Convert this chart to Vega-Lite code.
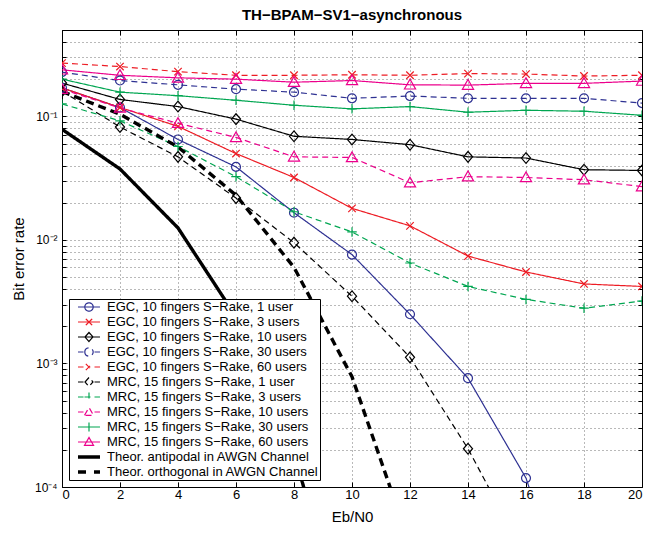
{
  "$schema": "https://vega.github.io/schema/vega-lite/v6.json",
  "width": 580,
  "height": 457,
  "autosize": "none",
  "padding": {"left": 62, "top": 30, "right": 23, "bottom": 46},
  "background": "white",
  "config": {
    "font": "Liberation Sans",
    "view": {"stroke": "black", "strokeWidth": 1},
    "axis": {"labelColor": "black", "titleColor": "black", "labelFontSize": 13, "titleFontSize": 15, "titleFontWeight": "normal", "tickColor": "black", "domain": false},
    "legend": {"orient": "bottom-left", "offset": 7, "padding": 1, "strokeColor": "black", "fillColor": "white", "labelFontSize": 13, "labelColor": "black", "labelLimit": 0, "symbolStrokeWidth": 1.2, "symbolOpacity": 1, "rowPadding": 1, "labelOffset": 23, "symbolSize": 144, "cornerRadius": 0}
  },
  "title": {"text": "TH−BPAM−SV1−asynchronous", "fontSize": 15, "fontWeight": "bold", "font": "Liberation Sans", "color": "black", "offset": 1},
  "data": {"values": [
    {"s": "EGC, 10 fingers S−Rake, 1 user", "x": 0, "y": 0.17},
    {"s": "EGC, 10 fingers S−Rake, 1 user", "x": 2, "y": 0.118},
    {"s": "EGC, 10 fingers S−Rake, 1 user", "x": 4, "y": 0.065},
    {"s": "EGC, 10 fingers S−Rake, 1 user", "x": 6, "y": 0.039},
    {"s": "EGC, 10 fingers S−Rake, 1 user", "x": 8, "y": 0.0166},
    {"s": "EGC, 10 fingers S−Rake, 1 user", "x": 10, "y": 0.0076},
    {"s": "EGC, 10 fingers S−Rake, 1 user", "x": 12, "y": 0.0025},
    {"s": "EGC, 10 fingers S−Rake, 1 user", "x": 14, "y": 0.00076},
    {"s": "EGC, 10 fingers S−Rake, 1 user", "x": 16, "y": 0.000118},
    {"s": "EGC, 10 fingers S−Rake, 1 user", "x": 18, "y": 0.0000047},

    {"s": "EGC, 10 fingers S−Rake, 3 users", "x": 0, "y": 0.17},
    {"s": "EGC, 10 fingers S−Rake, 3 users", "x": 2, "y": 0.118},
    {"s": "EGC, 10 fingers S−Rake, 3 users", "x": 4, "y": 0.083},
    {"s": "EGC, 10 fingers S−Rake, 3 users", "x": 6, "y": 0.05},
    {"s": "EGC, 10 fingers S−Rake, 3 users", "x": 8, "y": 0.032},
    {"s": "EGC, 10 fingers S−Rake, 3 users", "x": 10, "y": 0.018},
    {"s": "EGC, 10 fingers S−Rake, 3 users", "x": 12, "y": 0.013},
    {"s": "EGC, 10 fingers S−Rake, 3 users", "x": 14, "y": 0.0074},
    {"s": "EGC, 10 fingers S−Rake, 3 users", "x": 16, "y": 0.0055},
    {"s": "EGC, 10 fingers S−Rake, 3 users", "x": 18, "y": 0.0044},
    {"s": "EGC, 10 fingers S−Rake, 3 users", "x": 20, "y": 0.0042},

    {"s": "EGC, 10 fingers S−Rake, 10 users", "x": 0, "y": 0.186},
    {"s": "EGC, 10 fingers S−Rake, 10 users", "x": 2, "y": 0.137},
    {"s": "EGC, 10 fingers S−Rake, 10 users", "x": 4, "y": 0.12},
    {"s": "EGC, 10 fingers S−Rake, 10 users", "x": 6, "y": 0.095},
    {"s": "EGC, 10 fingers S−Rake, 10 users", "x": 8, "y": 0.069},
    {"s": "EGC, 10 fingers S−Rake, 10 users", "x": 10, "y": 0.065},
    {"s": "EGC, 10 fingers S−Rake, 10 users", "x": 12, "y": 0.059},
    {"s": "EGC, 10 fingers S−Rake, 10 users", "x": 14, "y": 0.047},
    {"s": "EGC, 10 fingers S−Rake, 10 users", "x": 16, "y": 0.046},
    {"s": "EGC, 10 fingers S−Rake, 10 users", "x": 18, "y": 0.037},
    {"s": "EGC, 10 fingers S−Rake, 10 users", "x": 20, "y": 0.0365},

    {"s": "EGC, 10 fingers S−Rake, 30 users", "x": 0, "y": 0.228},
    {"s": "EGC, 10 fingers S−Rake, 30 users", "x": 2, "y": 0.195},
    {"s": "EGC, 10 fingers S−Rake, 30 users", "x": 4, "y": 0.18},
    {"s": "EGC, 10 fingers S−Rake, 30 users", "x": 6, "y": 0.166},
    {"s": "EGC, 10 fingers S−Rake, 30 users", "x": 8, "y": 0.157},
    {"s": "EGC, 10 fingers S−Rake, 30 users", "x": 10, "y": 0.14},
    {"s": "EGC, 10 fingers S−Rake, 30 users", "x": 12, "y": 0.146},
    {"s": "EGC, 10 fingers S−Rake, 30 users", "x": 14, "y": 0.14},
    {"s": "EGC, 10 fingers S−Rake, 30 users", "x": 16, "y": 0.14},
    {"s": "EGC, 10 fingers S−Rake, 30 users", "x": 18, "y": 0.14},
    {"s": "EGC, 10 fingers S−Rake, 30 users", "x": 20, "y": 0.128},

    {"s": "EGC, 10 fingers S−Rake, 60 users", "x": 0, "y": 0.27},
    {"s": "EGC, 10 fingers S−Rake, 60 users", "x": 2, "y": 0.253},
    {"s": "EGC, 10 fingers S−Rake, 60 users", "x": 4, "y": 0.23},
    {"s": "EGC, 10 fingers S−Rake, 60 users", "x": 6, "y": 0.215},
    {"s": "EGC, 10 fingers S−Rake, 60 users", "x": 8, "y": 0.215},
    {"s": "EGC, 10 fingers S−Rake, 60 users", "x": 10, "y": 0.217},
    {"s": "EGC, 10 fingers S−Rake, 60 users", "x": 12, "y": 0.215},
    {"s": "EGC, 10 fingers S−Rake, 60 users", "x": 14, "y": 0.222},
    {"s": "EGC, 10 fingers S−Rake, 60 users", "x": 16, "y": 0.22},
    {"s": "EGC, 10 fingers S−Rake, 60 users", "x": 18, "y": 0.212},
    {"s": "EGC, 10 fingers S−Rake, 60 users", "x": 20, "y": 0.215},

    {"s": "MRC, 15 fingers S−Rake, 1 user", "x": 0, "y": 0.16},
    {"s": "MRC, 15 fingers S−Rake, 1 user", "x": 2, "y": 0.082},
    {"s": "MRC, 15 fingers S−Rake, 1 user", "x": 4, "y": 0.047},
    {"s": "MRC, 15 fingers S−Rake, 1 user", "x": 6, "y": 0.0218},
    {"s": "MRC, 15 fingers S−Rake, 1 user", "x": 8, "y": 0.0095},
    {"s": "MRC, 15 fingers S−Rake, 1 user", "x": 10, "y": 0.0035},
    {"s": "MRC, 15 fingers S−Rake, 1 user", "x": 12, "y": 0.00112},
    {"s": "MRC, 15 fingers S−Rake, 1 user", "x": 14, "y": 0.000204},
    {"s": "MRC, 15 fingers S−Rake, 1 user", "x": 16, "y": 0.000027},

    {"s": "MRC, 15 fingers S−Rake, 3 users", "x": 0, "y": 0.126},
    {"s": "MRC, 15 fingers S−Rake, 3 users", "x": 2, "y": 0.092},
    {"s": "MRC, 15 fingers S−Rake, 3 users", "x": 4, "y": 0.057},
    {"s": "MRC, 15 fingers S−Rake, 3 users", "x": 6, "y": 0.0325},
    {"s": "MRC, 15 fingers S−Rake, 3 users", "x": 8, "y": 0.0169},
    {"s": "MRC, 15 fingers S−Rake, 3 users", "x": 10, "y": 0.0116},
    {"s": "MRC, 15 fingers S−Rake, 3 users", "x": 12, "y": 0.0065},
    {"s": "MRC, 15 fingers S−Rake, 3 users", "x": 14, "y": 0.0042},
    {"s": "MRC, 15 fingers S−Rake, 3 users", "x": 16, "y": 0.0033},
    {"s": "MRC, 15 fingers S−Rake, 3 users", "x": 18, "y": 0.0028},
    {"s": "MRC, 15 fingers S−Rake, 3 users", "x": 20, "y": 0.0032},

    {"s": "MRC, 15 fingers S−Rake, 10 users", "x": 0, "y": 0.166},
    {"s": "MRC, 15 fingers S−Rake, 10 users", "x": 2, "y": 0.117},
    {"s": "MRC, 15 fingers S−Rake, 10 users", "x": 4, "y": 0.088},
    {"s": "MRC, 15 fingers S−Rake, 10 users", "x": 6, "y": 0.0675},
    {"s": "MRC, 15 fingers S−Rake, 10 users", "x": 8, "y": 0.047},
    {"s": "MRC, 15 fingers S−Rake, 10 users", "x": 10, "y": 0.0465},
    {"s": "MRC, 15 fingers S−Rake, 10 users", "x": 12, "y": 0.029},
    {"s": "MRC, 15 fingers S−Rake, 10 users", "x": 14, "y": 0.0325},
    {"s": "MRC, 15 fingers S−Rake, 10 users", "x": 16, "y": 0.032},
    {"s": "MRC, 15 fingers S−Rake, 10 users", "x": 18, "y": 0.0307},
    {"s": "MRC, 15 fingers S−Rake, 10 users", "x": 20, "y": 0.027},

    {"s": "MRC, 15 fingers S−Rake, 30 users", "x": 0, "y": 0.2},
    {"s": "MRC, 15 fingers S−Rake, 30 users", "x": 2, "y": 0.157},
    {"s": "MRC, 15 fingers S−Rake, 30 users", "x": 4, "y": 0.147},
    {"s": "MRC, 15 fingers S−Rake, 30 users", "x": 6, "y": 0.135},
    {"s": "MRC, 15 fingers S−Rake, 30 users", "x": 8, "y": 0.123},
    {"s": "MRC, 15 fingers S−Rake, 30 users", "x": 10, "y": 0.115},
    {"s": "MRC, 15 fingers S−Rake, 30 users", "x": 12, "y": 0.12},
    {"s": "MRC, 15 fingers S−Rake, 30 users", "x": 14, "y": 0.108},
    {"s": "MRC, 15 fingers S−Rake, 30 users", "x": 16, "y": 0.112},
    {"s": "MRC, 15 fingers S−Rake, 30 users", "x": 18, "y": 0.11},
    {"s": "MRC, 15 fingers S−Rake, 30 users", "x": 20, "y": 0.102},

    {"s": "MRC, 15 fingers S−Rake, 60 users", "x": 0, "y": 0.238},
    {"s": "MRC, 15 fingers S−Rake, 60 users", "x": 2, "y": 0.215},
    {"s": "MRC, 15 fingers S−Rake, 60 users", "x": 4, "y": 0.205},
    {"s": "MRC, 15 fingers S−Rake, 60 users", "x": 6, "y": 0.2},
    {"s": "MRC, 15 fingers S−Rake, 60 users", "x": 8, "y": 0.189},
    {"s": "MRC, 15 fingers S−Rake, 60 users", "x": 10, "y": 0.195},
    {"s": "MRC, 15 fingers S−Rake, 60 users", "x": 12, "y": 0.18},
    {"s": "MRC, 15 fingers S−Rake, 60 users", "x": 14, "y": 0.179},
    {"s": "MRC, 15 fingers S−Rake, 60 users", "x": 16, "y": 0.185},
    {"s": "MRC, 15 fingers S−Rake, 60 users", "x": 18, "y": 0.185},
    {"s": "MRC, 15 fingers S−Rake, 60 users", "x": 20, "y": 0.193},

    {"s": "Theor. antipodal in AWGN Channel", "x": 0, "y": 0.0786},
    {"s": "Theor. antipodal in AWGN Channel", "x": 2, "y": 0.0375},
    {"s": "Theor. antipodal in AWGN Channel", "x": 4, "y": 0.0125},
    {"s": "Theor. antipodal in AWGN Channel", "x": 6, "y": 0.00239},
    {"s": "Theor. antipodal in AWGN Channel", "x": 8, "y": 0.000191},
    {"s": "Theor. antipodal in AWGN Channel", "x": 10, "y": 0.0000039},

    {"s": "Theor. orthogonal in AWGN Channel", "x": 0, "y": 0.159},
    {"s": "Theor. orthogonal in AWGN Channel", "x": 2, "y": 0.104},
    {"s": "Theor. orthogonal in AWGN Channel", "x": 4, "y": 0.0565},
    {"s": "Theor. orthogonal in AWGN Channel", "x": 6, "y": 0.023},
    {"s": "Theor. orthogonal in AWGN Channel", "x": 8, "y": 0.006},
    {"s": "Theor. orthogonal in AWGN Channel", "x": 10, "y": 0.00078},
    {"s": "Theor. orthogonal in AWGN Channel", "x": 12, "y": 0.000034}
  ]},
  "layer": [
    {
      "mark": {"type": "point", "opacity": 0, "filled": false, "size": 144, "strokeWidth": 1.2, "clip": true},
      "encoding": {
        "x": {"field": "x", "type": "quantitative", "scale": {"domain": [0, 20], "nice": false, "zero": false},
              "axis": {"orient": "top", "values": [0,2,4,6,8,10,12,14,16,18,20], "labels": false, "grid": false, "tickSize": -5, "title": null}},
        "y": {"field": "y", "type": "quantitative", "scale": {"type": "log", "domain": [0.0001, 0.5], "nice": false},
              "axis": {"orient": "right", "values": [0.0001,0.0002,0.0003,0.0004,0.0005,0.0006,0.0007,0.0008,0.0009,0.001,0.002,0.003,0.004,0.005,0.006,0.007,0.008,0.009,0.01,0.02,0.03,0.04,0.05,0.06,0.07,0.08,0.09,0.1,0.2,0.3,0.4,0.5], "labels": false, "grid": false, "tickSize": -4, "title": null}},
        "color": {"field": "s", "type": "nominal", "title": null,
          "scale": {"domain": ["EGC, 10 fingers S−Rake, 1 user","EGC, 10 fingers S−Rake, 3 users","EGC, 10 fingers S−Rake, 10 users","EGC, 10 fingers S−Rake, 30 users","EGC, 10 fingers S−Rake, 60 users","MRC, 15 fingers S−Rake, 1 user","MRC, 15 fingers S−Rake, 3 users","MRC, 15 fingers S−Rake, 10 users","MRC, 15 fingers S−Rake, 30 users","MRC, 15 fingers S−Rake, 60 users","Theor. antipodal in AWGN Channel","Theor. orthogonal in AWGN Channel"],
                    "range": ["#2e3192","#ed1c24","#000000","#2e3192","#ed1c24","#000000","#00a651","#ec008c","#00a651","#ec008c","#000000","#000000"]},
          "legend": {"title": null, "symbolOpacity": 1, "symbolSize": 144, "labelLimit": 0}},
        "shape": {"field": "s", "type": "nominal", "title": null,
          "scale": {"domain": ["EGC, 10 fingers S−Rake, 1 user","EGC, 10 fingers S−Rake, 3 users","EGC, 10 fingers S−Rake, 10 users","EGC, 10 fingers S−Rake, 30 users","EGC, 10 fingers S−Rake, 60 users","MRC, 15 fingers S−Rake, 1 user","MRC, 15 fingers S−Rake, 3 users","MRC, 15 fingers S−Rake, 10 users","MRC, 15 fingers S−Rake, 30 users","MRC, 15 fingers S−Rake, 60 users","Theor. antipodal in AWGN Channel","Theor. orthogonal in AWGN Channel"],
                    "range": [
                      "M0.167,0H3.833M1.3,0A0.7,0.7,0,1,1,2.7,0A0.7,0.7,0,1,1,1.3,0",
                      "M0.167,0H3.833M1.467,-0.53L2.533,0.53M1.467,0.53L2.533,-0.53",
                      "M0.167,0H3.833M1.333,0L2,-0.75L2.667,0L2,0.75Z",
                      "M0.167,0H1.087M2.917,0H3.833M1.3,0A0.7,0.7,0,1,1,2.7,0A0.7,0.7,0,1,1,1.3,0",
                      "M0.167,0H1.087M2.917,0H3.833M1.467,-0.53L2.533,0.53M1.467,0.53L2.533,-0.53",
                      "M0.167,0H1.087M2.917,0H3.833M1.333,0L2,-0.75L2.667,0L2,0.75Z",
                      "M0.167,0H1.087M2.917,0H3.833M1.25,0H2.75M2,-0.75V0.75",
                      "M0.167,0H1.087M2.917,0H3.833M1.25,0.55L2,-0.75L2.75,0.55Z",
                      "M0.167,0H3.833M2,-0.75V0.75",
                      "M0.167,0H3.833M1.25,0.55L2,-0.75L2.75,0.55Z",
                      "M0.167,-0.2H3.833M0.167,-0.1H3.833M0.167,0H3.833M0.167,0.1H3.833M0.167,0.2H3.833",
                      "M0.167,-0.2H1.5M0.167,-0.1H1.5M0.167,0H1.5M0.167,0.1H1.5M0.167,0.2H1.5M2.833,-0.2H3.833M2.833,-0.1H3.833M2.833,0H3.833M2.833,0.1H3.833M2.833,0.2H3.833"
                    ]},
          "legend": {"title": null, "symbolOpacity": 1, "symbolSize": 144, "labelLimit": 0}}
      }
    },
    {
      "transform": [{"filter": {"not": {"field": "s", "oneOf": ["Theor. antipodal in AWGN Channel","Theor. orthogonal in AWGN Channel"]}}}],
      "mark": {"type": "line", "clip": true, "strokeWidth": 1.2},
      "encoding": {
        "x": {"field": "x", "type": "quantitative", "scale": {"domain": [0, 20], "nice": false, "zero": false},
              "axis": {"orient": "bottom", "values": [0,2,4,6,8,10,12,14,16,18,20], "grid": true, "gridDash": [1,3], "gridColor": "#000", "gridOpacity": 0.55, "tickSize": -5, "labelPadding": 6, "labelFontSize": 13, "title": "Eb/N0", "titleFontSize": 15, "titlePadding": 8}},
        "y": {"field": "y", "type": "quantitative", "scale": {"type": "log", "domain": [0.0001, 0.5], "nice": false},
              "axis": {"orient": "left", "values": [0.0001,0.0002,0.0003,0.0004,0.0005,0.0006,0.0007,0.0008,0.0009,0.001,0.002,0.003,0.004,0.005,0.006,0.007,0.008,0.009,0.01,0.02,0.03,0.04,0.05,0.06,0.07,0.08,0.09,0.1,0.2,0.3,0.4,0.5], "labelExpr": "datum.value==0.1?'10⁻¹':datum.value==0.01?'10⁻²':datum.value==0.001?'10⁻³':datum.value==0.0001?'10⁻⁴':''", "labelOverlap": false, "labelFlush": false, "grid": true, "gridDash": [1,3], "gridColor": "#000", "gridOpacity": 0.55, "tickSize": -4, "labelPadding": 9, "labelFontSize": 12, "title": "Bit error rate", "titleFontSize": 15, "titlePadding": 8}},
        "color": {"field": "s", "type": "nominal", "title": null},
        "strokeDash": {"field": "s", "type": "nominal", "legend": null,
          "scale": {"domain": ["EGC, 10 fingers S−Rake, 1 user","EGC, 10 fingers S−Rake, 3 users","EGC, 10 fingers S−Rake, 10 users","EGC, 10 fingers S−Rake, 30 users","EGC, 10 fingers S−Rake, 60 users","MRC, 15 fingers S−Rake, 1 user","MRC, 15 fingers S−Rake, 3 users","MRC, 15 fingers S−Rake, 10 users","MRC, 15 fingers S−Rake, 30 users","MRC, 15 fingers S−Rake, 60 users","Theor. antipodal in AWGN Channel","Theor. orthogonal in AWGN Channel"],
                    "range": [[1,0],[1,0],[1,0],[6,4],[6,4],[6,4],[6,4],[6,4],[1,0],[1,0],[1,0],[8,5]]}}
      }
    },
    {
      "transform": [{"filter": {"field": "s", "oneOf": ["Theor. antipodal in AWGN Channel","Theor. orthogonal in AWGN Channel"]}}],
      "mark": {"type": "line", "clip": true, "strokeWidth": 3.4},
      "encoding": {
        "x": {"field": "x", "type": "quantitative", "scale": {"domain": [0, 20], "nice": false, "zero": false}, "axis": null},
        "y": {"field": "y", "type": "quantitative", "scale": {"type": "log", "domain": [0.0001, 0.5], "nice": false}, "axis": null},
        "color": {"field": "s", "type": "nominal", "title": null},
        "strokeDash": {"field": "s", "type": "nominal", "legend": null}
      }
    },
    {
      "transform": [{"filter": {"field": "s", "oneOf": ["EGC, 10 fingers S−Rake, 1 user","EGC, 10 fingers S−Rake, 30 users"]}}],
      "mark": {"type": "point", "shape": "circle", "filled": false, "size": 80, "strokeWidth": 1.2, "opacity": 1, "clip": true},
      "encoding": {"x": {"field": "x", "type": "quantitative", "scale": {"domain": [0, 20], "nice": false, "zero": false}, "axis": null},
                   "y": {"field": "y", "type": "quantitative", "scale": {"type": "log", "domain": [0.0001, 0.5], "nice": false}, "axis": null},
                   "color": {"field": "s", "type": "nominal", "title": null}}
    },
    {
      "transform": [{"filter": {"field": "s", "oneOf": ["EGC, 10 fingers S−Rake, 3 users","EGC, 10 fingers S−Rake, 60 users"]}}],
      "mark": {"type": "point", "shape": "M-1,-1L1,1M-1,1L1,-1", "filled": false, "size": 56, "strokeWidth": 1.2, "opacity": 1, "clip": true},
      "encoding": {"x": {"field": "x", "type": "quantitative", "scale": {"domain": [0, 20], "nice": false, "zero": false}, "axis": null},
                   "y": {"field": "y", "type": "quantitative", "scale": {"type": "log", "domain": [0.0001, 0.5], "nice": false}, "axis": null},
                   "color": {"field": "s", "type": "nominal", "title": null}}
    },
    {
      "transform": [{"filter": {"field": "s", "oneOf": ["EGC, 10 fingers S−Rake, 10 users","MRC, 15 fingers S−Rake, 1 user"]}}],
      "mark": {"type": "point", "shape": "M-0.85,0L0,-1L0.85,0L0,1Z", "filled": false, "size": 115, "strokeWidth": 1.2, "opacity": 1, "clip": true},
      "encoding": {"x": {"field": "x", "type": "quantitative", "scale": {"domain": [0, 20], "nice": false, "zero": false}, "axis": null},
                   "y": {"field": "y", "type": "quantitative", "scale": {"type": "log", "domain": [0.0001, 0.5], "nice": false}, "axis": null},
                   "color": {"field": "s", "type": "nominal", "title": null}}
    },
    {
      "transform": [{"filter": {"field": "s", "oneOf": ["MRC, 15 fingers S−Rake, 3 users","MRC, 15 fingers S−Rake, 30 users"]}}],
      "mark": {"type": "point", "shape": "M-1,0H1M0,-1V1", "filled": false, "size": 90, "strokeWidth": 1.2, "opacity": 1, "clip": true},
      "encoding": {"x": {"field": "x", "type": "quantitative", "scale": {"domain": [0, 20], "nice": false, "zero": false}, "axis": null},
                   "y": {"field": "y", "type": "quantitative", "scale": {"type": "log", "domain": [0.0001, 0.5], "nice": false}, "axis": null},
                   "color": {"field": "s", "type": "nominal", "title": null}}
    },
    {
      "transform": [{"filter": {"field": "s", "oneOf": ["MRC, 15 fingers S−Rake, 10 users","MRC, 15 fingers S−Rake, 60 users"]}}],
      "mark": {"type": "point", "shape": "M-1,0.75L0,-1L1,0.75Z", "filled": false, "size": 125, "strokeWidth": 1.2, "opacity": 1, "clip": true},
      "encoding": {"x": {"field": "x", "type": "quantitative", "scale": {"domain": [0, 20], "nice": false, "zero": false}, "axis": null},
                   "y": {"field": "y", "type": "quantitative", "scale": {"type": "log", "domain": [0.0001, 0.5], "nice": false}, "axis": null},
                   "color": {"field": "s", "type": "nominal", "title": null}}
    }
  ],
  "resolve": {"axis": {"x": "independent", "y": "independent"}}
}
